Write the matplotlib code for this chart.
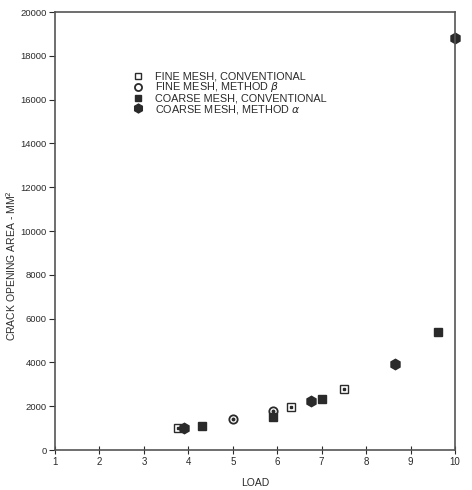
import matplotlib.pyplot as plt

# fine mesh, conventional
fine_conv_x = [3.76, 6.3, 7.5]
fine_conv_y = [1000, 1950, 2780]
# fine mesh, method beta
fine_meth_x = [5.0, 5.9]
fine_meth_y = [1420, 1760]
# coarse mesh, conventional
coarse_conv_x = [4.31, 5.9, 7.01, 9.61]
coarse_conv_y = [1110, 1520, 2345, 5410]
# coarse mesh, method alpha
coarse_meth_x = [3.91, 6.77, 8.65, 10.0]
coarse_meth_y = [1020, 2240, 3920, 18830]

xticks = list(range(1, 11))
yticks = list(range(0, 20001, 2000))

ink = '#2a2a2a'
plt.rcParams['font.family'] = ['Liberation Sans', 'DejaVu Sans']

fig = plt.figure(figsize=(4.72, 4.9), dpi=100)
ax = fig.add_axes([0.1165, 0.0816, 0.8475, 0.8939])

ax.plot(fine_conv_x, fine_conv_y, ls='none', marker='s', ms=5.5, mfc='white',
        mec=ink, mew=1.0, label='FINE MESH, CONVENTIONAL')
ax.plot(fine_conv_x, fine_conv_y, ls='none', marker='s', ms=1.5, color=ink)
ax.plot(fine_meth_x, fine_meth_y, ls='none', marker='o', ms=6, mfc='white',
        mec=ink, mew=1.3, label='FINE MESH, METHOD $\\beta$')
ax.plot(fine_meth_x, fine_meth_y, ls='none', marker='o', ms=1.8, color=ink)
ax.plot(coarse_conv_x, coarse_conv_y, ls='none', marker='s', ms=5.5, color=ink,
        label='COARSE MESH, CONVENTIONAL')
ax.plot(coarse_meth_x, coarse_meth_y, ls='none', marker='h', ms=7.5, color=ink,
        label='COARSE MESH, METHOD $\\alpha$', clip_on=False)

ax.set_xlim(1, 10)
ax.set_ylim(0, 20000)
ax.set_xticks(xticks)
ax.set_yticks(yticks)
ax.tick_params(axis='x', direction='inout', length=6, labelsize=7, colors=ink, pad=2)
ax.tick_params(axis='y', direction='out', length=4, labelsize=6.8, colors=ink, pad=2)
for s in ax.spines.values():
    s.set_color('#555555')
    s.set_linewidth(1.2)

ax.set_xlabel('LOAD', fontsize=7.5, color=ink, labelpad=8)
ax.set_ylabel('CRACK OPENING AREA - MM$^2$', fontsize=7.5, color=ink)
ax.yaxis.set_label_coords(-0.092, 0.42)

ax.legend(loc='upper left', bbox_to_anchor=(0.1825, 0.877), frameon=False,
          fontsize=7.8, handletextpad=1.15, labelspacing=-0.08, handlelength=0.8,
          borderpad=0, labelcolor=ink, markerscale=0.85)

fig.savefig('out.png', dpi=100)
